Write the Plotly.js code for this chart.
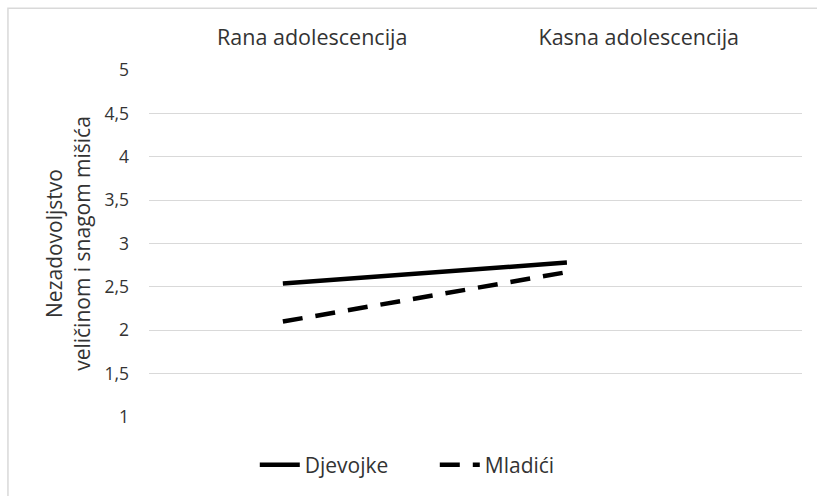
<!DOCTYPE html>
<html>
<head>
<meta charset="utf-8">
<script src="https://cdn.plot.ly/plotly-3.0.1.min.js"></script>
<style>html,body{margin:0;padding:0;background:#fff;}#chart{width:817px;height:496px;}</style>
</head>
<body>
<div id="chart"></div>
<script>
// Data
var categories = ["Rana adolescencija", "Kasna adolescencija"];
var categoryPos = [0.5, 1.5];
var pointPos = [0.41, 1.28];
var djevojke = [2.54, 2.78];
var mladici = [2.10, 2.67];
var yTicks = [1, 1.5, 2, 2.5, 3, 3.5, 4, 4.5, 5];

var FONT = "Open Sans, Liberation Sans, sans-serif";
var TXT = "#333333";

var traces = [
  {x: pointPos, y: djevojke, name: "Djevojke", type: "scatter", mode: "lines",
   line: {color: "#000000", width: 4.5}},
  {x: pointPos, y: mladici, name: "Mladići", type: "scatter", mode: "lines",
   line: {color: "#000000", width: 4.5, dash: "20px,13px"}}
];

var layout = {
  width: 817, height: 496,
  margin: {l: 149, r: 15, t: 70, b: 78},
  paper_bgcolor: "#ffffff", plot_bgcolor: "#ffffff",
  separators: ", ",
  font: {family: FONT, color: TXT, size: 17},
  showlegend: true,
  legend: {orientation: "h", x: 0.162, xanchor: "left", y: -0.135, yanchor: "middle",
           entrywidth: 125, entrywidthmode: "pixels",
           font: {family: FONT, size: 21, color: TXT}, itemwidth: 40},
  xaxis: {type: "linear", range: [0, 2], side: "top", tickvals: categoryPos, ticktext: categories,
          showgrid: false, zeroline: false, showline: false, ticks: "",
          ticklabelstandoff: 20, tickfont: {family: FONT, size: 21.5, color: TXT}, fixedrange: true},
  yaxis: {range: [1, 5], tickvals: yTicks, showgrid: true, gridcolor: "#d9d9d9", gridwidth: 1,
          zeroline: false, showline: false, ticks: "", ticklabelstandoff: 19,
          tickfont: {family: FONT, size: 17.5, color: TXT},
          title: {text: "Nezadovoljstvo<br>veličinom i snagom mišića", standoff: 8,
                  font: {family: FONT, size: 21, color: TXT}}, fixedrange: true},
  shapes: [{type: "rect", xref: "paper", yref: "paper", x0: -0.216, x1: 1.2, y0: -0.6, y1: 1.178,
            line: {color: "#d9d9d9", width: 1.5}, fillcolor: "rgba(0,0,0,0)", layer: "below"}]
};

Plotly.newPlot("chart", traces, layout, {displayModeBar: false, staticPlot: true});
</script>
</body>
</html>
